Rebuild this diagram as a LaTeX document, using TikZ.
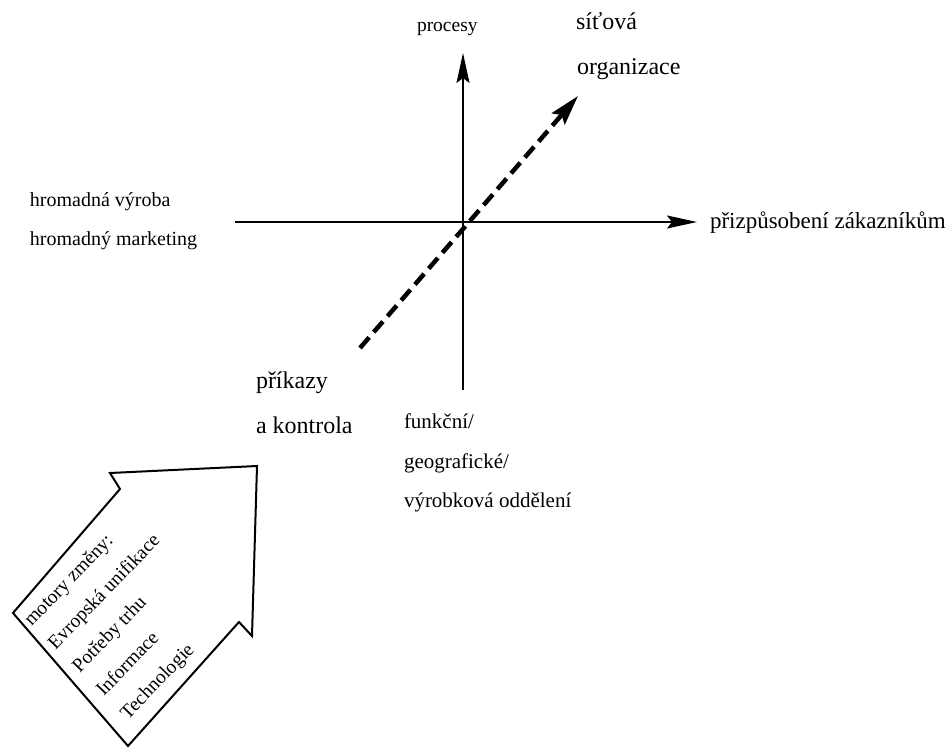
\documentclass[tikz,border=0pt]{standalone}
\usepackage{fontspec}
\setmainfont{Liberation Serif}
\usetikzlibrary{arrows.meta}
\begin{document}
\begin{tikzpicture}[x=1pt,y=-1pt,
  lbl/.style={anchor=base west,inner sep=0pt,outer sep=0pt},
  axisline/.style={line width=2pt,-{Stealth[length=30pt,width=13pt,inset=5pt]}},
  dasharrow/.style={line width=4.5pt,dash pattern=on 14pt off 7pt,-{Stealth[length=30pt,width=17pt,inset=5pt]}},
  blockarrow/.style={line width=2pt,line join=miter},
  rotlbl/.style={anchor=base west,inner sep=0pt,outer sep=0pt,rotate=46,align=left,font=\fontsize{19.5}{33.5}\selectfont}
]
\useasboundingbox (0,0) rectangle (951,749);
\fill[white] (0,0) rectangle (951,749);
% axes
\coordinate (vb) at (463,390);
\coordinate (vt) at (463,53);
\coordinate (hl) at (235,222);
\coordinate (hr) at (697,222);
\coordinate (ds) at (360,348);
\coordinate (de) at (578,96);
\draw[axisline] (vb) -- (vt);
\draw[axisline] (hl) -- (hr);
\draw[dasharrow] (ds) -- (de);
% labels
\node[lbl,font=\fontsize{19.5}{23}\selectfont] (proc) at (417,32) {procesy};
\node[lbl,font=\fontsize{24}{28}\selectfont] (sit1) at (576,30) {síťová};
\node[lbl,font=\fontsize{24}{28}\selectfont] (sit2) at (577,75) {organizace};
\node[lbl,font=\fontsize{20}{24}\selectfont] (hrom1) at (30,207) {hromadná výroba};
\node[lbl,font=\fontsize{20}{24}\selectfont] (hrom2) at (30,245) {hromadný marketing};
\node[lbl,font=\fontsize{23}{27}\selectfont] (prizp) at (710,228) {přizpůsobení zákazníkům};
\node[lbl,font=\fontsize{24}{28}\selectfont] (prik1) at (256,388) {příkazy};
\node[lbl,font=\fontsize{24}{28}\selectfont] (prik2) at (256,433) {a kontrola};
\node[lbl,font=\fontsize{21}{25}\selectfont] (fun1) at (404,428) {funkční/};
\node[lbl,font=\fontsize{21}{25}\selectfont] (fun2) at (404,468) {geografické/};
\node[lbl,font=\fontsize{21}{25}\selectfont] (fun3) at (404,507) {výrobková oddělení};
% block arrow
\draw[blockarrow] (13,613) -- (120,489) -- (110,473) -- (257,466) -- (252,636)
  -- (239,622) -- (128,746) -- cycle;
\node[rotlbl] (motors) at (128,720) {motory změny:\\Evropská unifikace\\Potřeby trhu\\Informace\\Technologie};
\end{tikzpicture}
\end{document}
